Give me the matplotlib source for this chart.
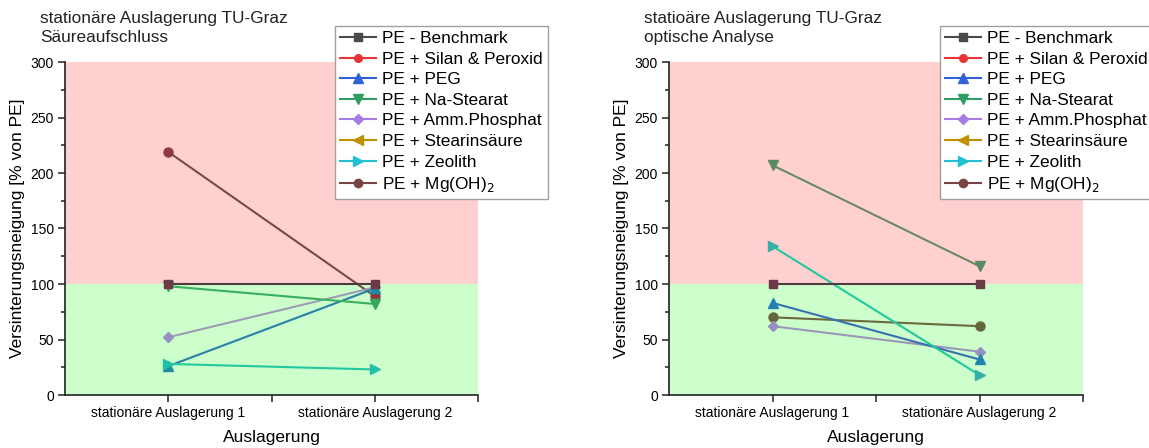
import numpy as np
import matplotlib
matplotlib.use("Agg")
import matplotlib.pyplot as plt
from matplotlib.ticker import MultipleLocator, FixedLocator
from matplotlib.lines import Line2D

plt.rcParams['font.family'] = ['Liberation Sans', 'DejaVu Sans']

nan = np.nan

categories = ["stationäre Auslagerung 1", "stationäre Auslagerung 2"]
series = ["PE - Benchmark", "PE + Silan & Peroxid", "PE + PEG", "PE + Na-Stearat",
          "PE + Amm.Phosphat", "PE + Stearinsäure", "PE + Zeolith", "PE + Mg(OH)$_2$"]

# Säureaufschluss
saeure_s1 = [100, nan, 26, 98, 52, nan, 28, 219]
saeure_s2 = [100, nan, 96, 82, 97, nan, 23, 89]
# optische Analyse
optisch_s1 = [100, nan, 83, 207, 62, nan, 134, 70]
optisch_s2 = [100, nan, 32, 116, 39, nan, 18, 62]

titles = ["stationäre Auslagerung TU-Graz\nSäureaufschluss",
          "statioäre Auslagerung TU-Graz\noptische Analyse"]

markers = ['s', 'o', '^', 'v', 'D', '<', '>', 'o']
marker_sizes = [6, 6, 7, 7, 5.5, 7, 7, 6.5]
legend_colors = ['#4a4a4a', '#e83434', '#2f62d6', '#2f9e63', '#a77ce0',
                 '#c09000', '#22c0d0', '#7a4444']

left_line_colors = ['#4e3c3c', '#e83434', '#2a7fa8', '#3cae62', '#9c9cb4',
                    '#c09000', '#22c89e', '#7b4848']
left_marker_colors = ['#6a3a48', '#e83434', '#1f8aa6', '#36a85a', '#9890c0',
                      '#c09000', '#22c0a8', '#8c3a40']
right_line_colors = ['#503c3c', '#e83434', '#3a70b0', '#6a8a62', '#9a96b8',
                     '#c09000', '#22c89e', '#6a6a3c']
right_marker_colors = ['#6a3a48', '#e83434', '#1f82b0', '#5a8a62', '#9890c0',
                       '#c09000', '#34b0a8', '#66663a']

W, H = 1149, 448
fig = plt.figure(figsize=(W / 100, H / 100), dpi=100)

panels = [
    (saeure_s1, saeure_s2, left_line_colors, left_marker_colors, (65, 478), 40, 335),
    (optisch_s1, optisch_s2, right_line_colors, right_marker_colors, (669, 1083), 644, 940),
]

y_top_px, y_bot_px = 62, 395
x = np.arange(1, len(categories) + 1)

for (s1, s2, lcols, mcols, (xl, xr), title_x, leg_x), title in zip(panels, titles):
    ax = fig.add_axes([xl / W, 1 - y_bot_px / H, (xr - xl) / W, (y_bot_px - y_top_px) / H])
    ax.set_xlim(0.5, 2.5)
    ax.set_ylim(0, 300)
    ax.axhspan(0, 100, color='#ccffcc', zorder=0, lw=0)
    ax.axhspan(100, 300, color='#ffd0d0', zorder=0, lw=0)

    order = [7, 4, 2, 6, 3, 5, 1, 0]
    for i in order:
        vals = [s1[i], s2[i]]
        if np.all(np.isnan(vals)):
            continue
        ax.plot(x, vals, color=lcols[i], lw=1.5, zorder=2 + (i == 0))
        ax.plot(x, vals, linestyle='none', marker=markers[i], ms=marker_sizes[i],
                color=mcols[i], mec=mcols[i], zorder=4 + (i == 0))

    for side in ['top', 'right']:
        ax.spines[side].set_visible(False)
    for side in ['left', 'bottom']:
        ax.spines[side].set_linewidth(1.2)
        ax.spines[side].set_color('#222222')
        ax.spines[side].set_zorder(6)

    ax.set_xticks(x)
    ax.set_xticklabels(categories, fontsize=10)
    ax.xaxis.set_minor_locator(FixedLocator([1.5, 2.5]))
    ax.yaxis.set_major_locator(MultipleLocator(50))
    ax.yaxis.set_minor_locator(MultipleLocator(25))
    ax.tick_params(axis='both', which='major', direction='out', length=5, width=1.1,
                   labelsize=10, color='#222222', pad=3)
    ax.tick_params(axis='x', which='minor', direction='out', length=5, width=1.1, color='#222222')
    ax.tick_params(axis='y', which='minor', direction='out', length=3, width=1.1, color='#222222')

    ax.set_ylabel("Versinterungsneigung [% von PE]", fontsize=12.5, labelpad=4)
    ax.set_xlabel("Auslagerung", fontsize=12.5, labelpad=7)

    fig.text(title_x / W, 1 - 11 / H, title, fontsize=12.4, va='top', ha='left',
             linespacing=1.3, color='#222222')

    handles = [Line2D([0], [0], color=legend_colors[i], lw=1.5, marker=markers[i],
                      ms=marker_sizes[i] - 0.5, mec=legend_colors[i])
               for i in range(len(series))]
    leg = ax.legend(handles, series, loc='upper left',
                    bbox_to_anchor=(leg_x / W, 1 - 26 / H), bbox_transform=fig.transFigure,
                    fontsize=12.4, frameon=True, fancybox=False, borderaxespad=0,
                    borderpad=0.3, labelspacing=0.32, handlelength=2.1,
                    handletextpad=0.35)
    leg.get_frame().set_edgecolor('#a0a0a0')
    leg.get_frame().set_linewidth(1.0)
    leg.get_frame().set_alpha(1)
    leg.set_zorder(10)

fig.savefig("out.png", dpi=100)
